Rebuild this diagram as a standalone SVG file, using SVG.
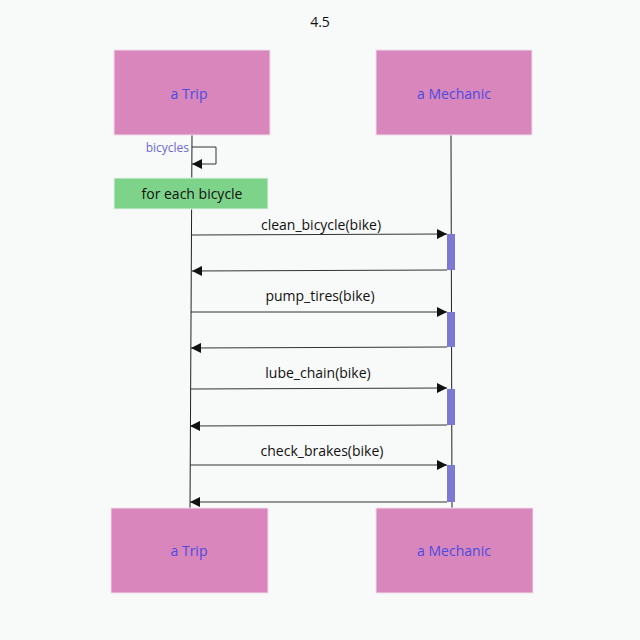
<svg xmlns="http://www.w3.org/2000/svg" width="640" height="640" viewBox="0 0 640 640">
<defs>
<style>
.box{fill:#d886bc;stroke:#f0e0ec;stroke-width:1}
.name{font-family:"Open Sans","DejaVu Sans",sans-serif;font-size:14px;fill:#4b4be0;text-anchor:middle}
.lbl{font-family:"Open Sans","DejaVu Sans",sans-serif;font-size:14px;fill:#111;text-anchor:middle}
.life{stroke:#222;stroke-width:1;fill:none}
.msg{stroke:#333;stroke-width:1;fill:none}
.act{fill:#7b79d4}
</style>
<marker id="ah" viewBox="0 0 10 10" refX="10" refY="5" markerWidth="10" markerHeight="10" markerUnits="userSpaceOnUse" orient="auto">
<path d="M0,0 L10,5 L0,10 z" fill="#111"/>
</marker>
</defs>
<rect width="640" height="640" fill="#f8f9f9"/>
<text x="320" y="27" class="lbl">4.5</text>
<g id="lifelines">
<line class="life" x1="192" y1="135" x2="190" y2="508"/>
<line class="life" x1="451" y1="135" x2="452" y2="508"/>
</g>
<g id="trip-top"><rect class="box" x="114" y="50" width="156" height="85"/><text class="name" x="189" y="99">a Trip</text></g>
<g id="mechanic-top"><rect class="box" x="376" y="50" width="156" height="85"/><text class="name" x="454" y="99">a Mechanic</text></g>
<g id="trip-bottom"><rect class="box" x="111" y="508" width="157" height="85"/><text class="name" x="189" y="556">a Trip</text></g>
<g id="mechanic-bottom"><rect class="box" x="376" y="508" width="157" height="85"/><text class="name" x="454" y="556">a Mechanic</text></g>
<g id="loop"><rect x="114" y="178" width="154" height="31" fill="#7dd38a" stroke="#e8f5ea"/><text class="lbl" x="192" y="199">for each bicycle</text></g>
<g id="activations">
<rect class="act" x="447" y="234" width="8" height="36"/>
<rect class="act" x="447" y="312" width="8" height="35"/>
<rect class="act" x="447" y="389" width="8" height="36"/>
<rect class="act" x="447" y="465" width="8" height="37"/>
</g>
<g id="connectors">
<polyline class="msg" points="192,147 216,147 216,164 192,164" marker-end="url(#ah)"/>
<text x="189" y="152" font-family="'Open Sans','DejaVu Sans',sans-serif" font-size="12" fill="#6b6bd0" text-anchor="end">bicycles</text>
<line class="msg" x1="192" y1="235" x2="447" y2="234" marker-end="url(#ah)"/>
<text class="lbl" x="321" y="230">clean_bicycle(bike)</text>
<line class="msg" x1="447" y1="270" x2="192" y2="271" marker-end="url(#ah)"/>
<line class="msg" x1="191" y1="312" x2="447" y2="312" marker-end="url(#ah)"/>
<text class="lbl" x="320" y="301">pump_tires(bike)</text>
<line class="msg" x1="447" y1="347" x2="191" y2="348" marker-end="url(#ah)"/>
<line class="msg" x1="191" y1="389" x2="447" y2="388" marker-end="url(#ah)"/>
<text class="lbl" x="318" y="378">lube_chain(bike)</text>
<line class="msg" x1="447" y1="425" x2="190" y2="426" marker-end="url(#ah)"/>
<line class="msg" x1="190" y1="465" x2="447" y2="465" marker-end="url(#ah)"/>
<text class="lbl" x="322" y="456">check_brakes(bike)</text>
<line class="msg" x1="447" y1="502" x2="190" y2="502" marker-end="url(#ah)"/>
</g>
</svg>
